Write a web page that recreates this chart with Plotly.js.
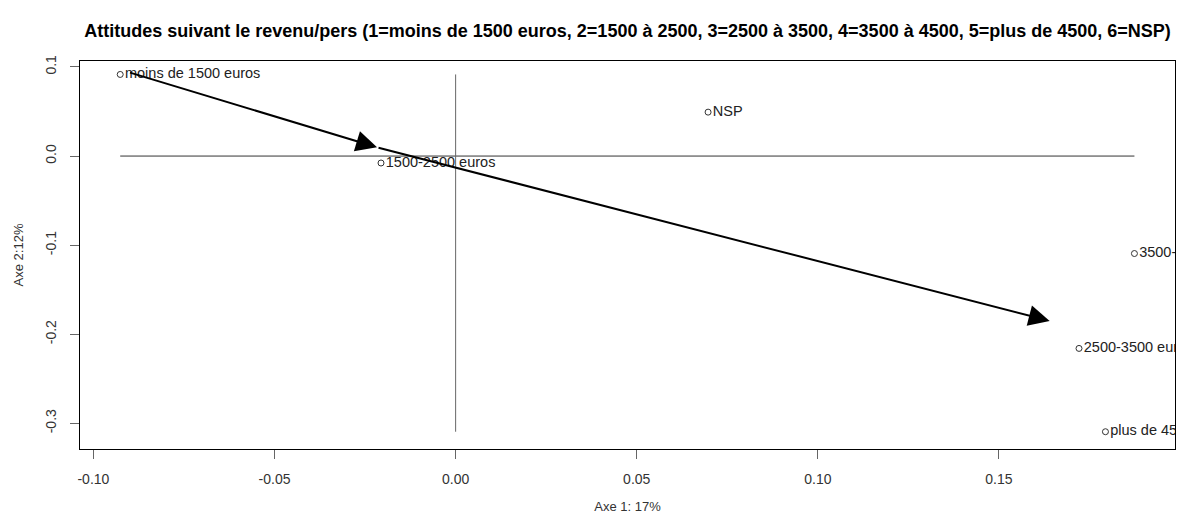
<!DOCTYPE html>
<html>
<head>
<meta charset="utf-8">
<script src="https://cdn.plot.ly/plotly-3.0.1.min.js"></script>
<style>html,body{margin:0;padding:0;background:#fff;}#chart{width:1185px;height:522px;}</style>
</head>
<body>
<div id="chart"></div>
<script>
// Modalities (points)
const labels = ["moins de 1500 euros", "1500-2500 euros", "2500-3500 euros", "3500-4500 euros", "plus de 4500 euros", "NSP"];
const axe1 = [-0.0926, -0.0206, 0.1721, 0.1874, 0.1794, 0.0697];
const axe2 = [0.0916, -0.0078, -0.2159, -0.1094, -0.3094, 0.0493];

// Arrow path (start, tip 1, tip 2)
const arrowX = [-0.0903, -0.0217, 0.1640];
const arrowY = [0.0942, 0.0098, -0.1850];

// Axis ranges and ticks
const xRange = [-0.1037, 0.1986];
const yRange = [-0.3288, 0.1067];
const xTicks = [-0.10, -0.05, 0.00, 0.05, 0.10, 0.15];
const xTickText = ["-0.10", "-0.05", "0.00", "0.05", "0.10", "0.15"];
const yTicks = [0.1, 0.0, -0.1, -0.2, -0.3];
const yTickText = ["0.1", "0.0", "-0.1", "-0.2", "-0.3"];

const titleText = "Attitudes suivant le revenu/pers (1=moins de 1500 euros, 2=1500 à 2500, 3=2500 à 3500, 4=3500 à 4500, 5=plus de 4500, 6=NSP)";
const xTitle = "Axe 1: 17%";
const yTitle = "Axe 2:12%";

const FONT = "Liberation Sans, Arial, sans-serif";

const xmin = Math.min(...axe1), xmax = Math.max(...axe1);
const ymin = Math.min(...axe2), ymax = Math.max(...axe2);

const traces = [
  { // horizontal reference line
    x: [xmin, xmax], y: [0, 0], mode: "lines",
    line: {color: "#333", width: 1}, hoverinfo: "skip", showlegend: false
  },
  { // vertical reference line
    x: [0, 0], y: [ymin, ymax], mode: "lines",
    line: {color: "#666", width: 1}, hoverinfo: "skip", showlegend: false
  },
  {
    x: axe1, y: axe2, text: labels, mode: "markers+text",
    textposition: "middle right",
    textfont: {family: FONT, size: 14.5, color: "#222"},
    marker: {symbol: "circle-open", size: 6, color: "#333", line: {width: 1, color: "#333"}},
    cliponaxis: true, showlegend: false
  }
];

const annotations = [];
for (let i = 1; i < arrowX.length; i++) {
  annotations.push({
    x: arrowX[i], y: arrowY[i], ax: arrowX[i-1], ay: arrowY[i-1],
    xref: "x", yref: "y", axref: "x", ayref: "y",
    text: "", showarrow: true, arrowhead: 2, arrowsize: 2.1, arrowwidth: 2,
    arrowcolor: "#000", standoff: 0, startstandoff: 0
  });
}

const layout = {
  width: 1185, height: 522,
  margin: {l: 80, r: 10, t: 61, b: 73},
  paper_bgcolor: "#fff", plot_bgcolor: "#fff",
  showlegend: false,
  title: {
    text: "<b>" + titleText + "</b>",
    font: {family: FONT, size: 18, color: "#000"},
    x: 0.5, xref: "paper", y: 1 - 31/522, yref: "container", yanchor: "middle"
  },
  xaxis: {
    range: xRange, tickvals: xTicks, ticktext: xTickText,
    showgrid: false, zeroline: false,
    showline: true, linecolor: "#000", linewidth: 1, mirror: true,
    ticks: "outside", ticklen: 9, tickcolor: "#666", tickwidth: 1,
    ticklabelstandoff: 8,
    tickfont: {family: FONT, size: 14, color: "#333"},
    title: {text: xTitle, font: {family: FONT, size: 13, color: "#333"}, standoff: 16}
  },
  yaxis: {
    range: yRange, tickvals: yTicks, ticktext: yTickText,
    showgrid: false, zeroline: false,
    showline: true, linecolor: "#000", linewidth: 1, mirror: true,
    ticks: "outside", ticklen: 9, tickcolor: "#666", tickwidth: 1,
    tickangle: -90, ticklabelstandoff: 8,
    tickfont: {family: FONT, size: 14, color: "#333"},
    title: {text: yTitle, font: {family: FONT, size: 13, color: "#333"}, standoff: 16}
  },
  annotations: annotations
};

Plotly.newPlot("chart", traces, layout, {displayModeBar: false, staticPlot: true});
</script>
</body>
</html>
